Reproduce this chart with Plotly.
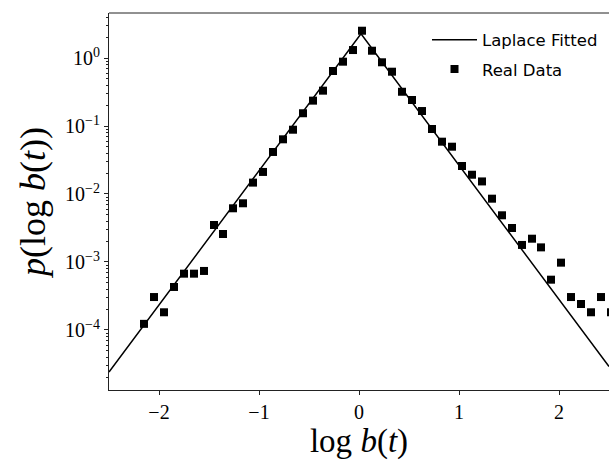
import plotly.graph_objects as go

# Real data (histogram of log b(t))
x_data = [-2.15, -2.05, -1.95, -1.85, -1.75, -1.65, -1.55, -1.45, -1.36, -1.26,
          -1.16, -1.06, -0.96, -0.86, -0.76, -0.66, -0.56, -0.46, -0.36, -0.26,
          -0.16, -0.06, 0.03, 0.13, 0.23, 0.33, 0.43, 0.53, 0.63, 0.73,
          0.83, 0.93, 1.03, 1.13, 1.23, 1.33, 1.43, 1.53, 1.63, 1.73,
          1.82, 1.92, 2.02, 2.12, 2.22, 2.32, 2.42, 2.52]
y_data = [1.23e-4, 3.05e-4, 1.82e-4, 4.29e-4, 6.73e-4, 6.73e-4, 7.38e-4, 3.50e-3, 2.58e-3, 6.16e-3,
          7.3e-3, 1.47e-2, 2.11e-2, 4.15e-2, 6.37e-2, 8.82e-2, 0.154, 0.236, 0.331, 0.644,
          0.883, 1.31, 2.52, 1.28, 0.865, 0.629, 0.319, 0.241, 0.166, 0.0903,
          0.0588, 0.0496, 0.0258, 0.0192, 0.0153, 8.53e-3, 4.86e-3, 3.16e-3, 1.78e-3, 2.2e-3,
          1.64e-3, 5.49e-4, 9.77e-4, 3.05e-4, 2.41e-4, 1.82e-4, 3.05e-4, 1.82e-4]

# Laplace fitted curve (straight segments on a log axis), knots
fit_x = [-2.5, 0.02, 2.5]
fit_y = [2.4e-5, 2.27, 2.9e-5]

y_tickvals = [1e-4, 1e-3, 1e-2, 1e-1, 1e0]
y_ticktext = ["10<sup>\u22124</sup>", "10<sup>\u22123</sup>", "10<sup>\u22122</sup>",
              "10<sup>\u22121</sup>", "10<sup>0</sup>"]
x_tickvals = [-2, -1, 0, 1, 2]

serif = "Liberation Serif"
sans = "DejaVu Sans"

fig = go.Figure()
fig.add_trace(go.Scatter(
    x=fit_x, y=fit_y, mode="lines", name="Laplace Fitted",
    line=dict(color="black", width=1.5), legendgroup="a"))
fig.add_trace(go.Scatter(
    x=x_data, y=y_data, mode="markers", name="Real Data",
    marker=dict(symbol="square", color="black", size=8), legendgroup="b",
    cliponaxis=True))

fig.update_layout(
    width=609, height=460,
    margin=dict(l=109, r=0, t=13, b=70),
    paper_bgcolor="white", plot_bgcolor="white",
    showlegend=True,
    legend=dict(x=0.636, y=0.975, xanchor="left", yanchor="top",
                bgcolor="rgba(0,0,0,0)", borderwidth=0, itemwidth=45,
                font=dict(family=sans, size=16.5, color="black"),
                tracegroupgap=5),
    xaxis=dict(range=[-2.5, 2.5], tickvals=x_tickvals, showgrid=False, zeroline=False,
               showline=True, linecolor="#222", linewidth=1,
               ticks="outside", ticklen=4, tickcolor="#222",
               tickfont=dict(family=serif, size=20, color="black"),
               title=dict(text="log <i>b</i>(<i>t</i>)",
                          font=dict(family=serif, size=33, color="black"), standoff=0)),
    yaxis=dict(type="log", range=[-4.883, 0.662], tickvals=y_tickvals, ticktext=y_ticktext,
               showgrid=False, zeroline=False,
               showline=True, linecolor="#222", linewidth=1,
               ticks="outside", ticklen=4, tickcolor="#222",
               minor=dict(ticks="outside", ticklen=2, tickcolor="#222", showgrid=False, dtick="D1"),
               tickfont=dict(family=serif, size=20, color="black"),
               title=dict(text="<i>p</i>(log <i>b</i>(<i>t</i>))",
                          font=dict(family=serif, size=36, color="black"), standoff=8)),
)
# top spine (right spine is cut off in the reference)
fig.add_shape(type="line", xref="paper", yref="paper", x0=0, x1=1, y0=1, y1=1,
              line=dict(color="#222", width=1))

fig.write_html("out.html")
